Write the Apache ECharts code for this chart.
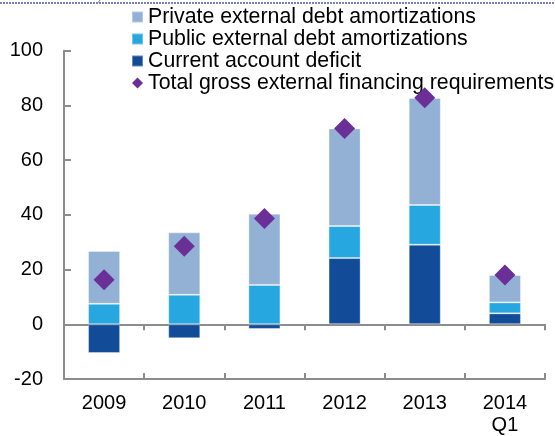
<!DOCTYPE html>
<html>
<head>
<meta charset="utf-8">
<script src="https://cdn.jsdelivr.net/npm/echarts@6/dist/echarts.min.js"></script>
<style>
  html, body { margin: 0; padding: 0; background: #fff; }
  #chart { width: 555px; height: 436px; }
</style>
</head>
<body>
<div id="chart"></div>
<script>
// Gross external financing requirements, USD bn
const categories = ['2009', '2010', '2011', '2012', '2013', '2014\nQ1'];
const currentAccountDeficit = [-10.5, -5.1, -1.7, 24.2, 29.1, 4.0];
const publicAmortizations = [7.5, 10.8, 14.4, 11.7, 14.5, 4.0];
const privateAmortizations = [19.3, 22.8, 26.0, 35.7, 39.1, 10.0];
const totalRequirements = [16.3, 28.5, 38.7, 71.6, 82.8, 18.0];

const FONT = '"Liberation Sans", Arial, sans-serif';
const AXIS_GRAY = '#8c8c8c';

const chart = echarts.init(document.getElementById('chart'), null, { renderer: 'canvas' });

const zeroAxis = (inside) => ({
  type: 'category',
  data: categories,
  position: 'bottom',
  boundaryGap: true,
  axisLine: { show: true, onZero: true, lineStyle: { color: AXIS_GRAY, width: 2 } },
  axisTick: { show: true, inside: inside, length: 6, lineStyle: { color: AXIS_GRAY, width: 2 } },
  axisLabel: { show: false },
  splitLine: { show: false }
});

const barBorder = { borderColor: 'rgba(255,255,255,0.35)', borderWidth: 1 };

chart.setOption({
  animation: false,
  backgroundColor: '#fff',
  textStyle: { fontFamily: FONT },
  grid: { left: 64, right: 10, top: 50.7, bottom: 56, containLabel: false },
  legend: {
    orient: 'vertical',
    left: 131,
    top: 6.5,
    padding: 0,
    itemWidth: 11,
    itemHeight: 11,
    itemGap: 1,
    textStyle: { fontFamily: FONT, fontSize: 21.3, color: '#000', lineHeight: 21 },
    data: [
      { name: 'Private external debt amortizations', icon: 'rect' },
      { name: 'Public external debt amortizations', icon: 'rect' },
      { name: 'Current account deficit', icon: 'rect' },
      { name: 'Total gross external financing requirements', icon: 'diamond' }
    ]
  },
  xAxis: [
    {
      type: 'category',
      data: categories,
      position: 'bottom',
      axisLine: { show: false, onZero: false },
      axisTick: { show: false },
      axisLabel: { fontFamily: FONT, fontSize: 20, color: '#000', margin: 13, lineHeight: 22 },
      splitLine: { show: false }
    },
    zeroAxis(false),
    zeroAxis(true)
  ],
  yAxis: {
    type: 'value',
    min: -20,
    max: 100,
    interval: 20,
    axisLine: { show: true, onZero: false, lineStyle: { color: AXIS_GRAY, width: 2 } },
    axisTick: { show: true, inside: true, length: 7, lineStyle: { color: AXIS_GRAY, width: 2 } },
    axisLabel: { fontFamily: FONT, fontSize: 20, color: '#000', margin: 21 },
    splitLine: { show: false }
  },
  series: [
    {
      name: 'Current account deficit',
      type: 'bar',
      stack: 'gfr',
      barWidth: '40%',
      data: currentAccountDeficit,
      itemStyle: Object.assign({ color: '#124c98' }, barBorder)
    },
    {
      name: 'Public external debt amortizations',
      type: 'bar',
      stack: 'gfr',
      barWidth: '40%',
      data: publicAmortizations,
      itemStyle: Object.assign({ color: '#27a7df' }, barBorder)
    },
    {
      name: 'Private external debt amortizations',
      type: 'bar',
      stack: 'gfr',
      barWidth: '40%',
      data: privateAmortizations,
      itemStyle: Object.assign({ color: '#93b0d5' }, barBorder)
    },
    {
      name: 'Total gross external financing requirements',
      type: 'scatter',
      symbol: 'diamond',
      symbolSize: 21,
      z: 5,
      data: totalRequirements,
      itemStyle: { color: '#6b2f98', opacity: 1 }
    }
  ],
  graphic: [
    {
      type: 'line',
      shape: { x1: 0, y1: 3, x2: 555, y2: 3 },
      style: { stroke: '#7b80c2', lineWidth: 2, lineDash: [2, 1] },
      silent: true
    },
    {
      type: 'line',
      shape: { x1: 97, y1: 4, x2: 100, y2: 0 },
      style: { stroke: '#8a8a8a', lineWidth: 1 },
      silent: true
    }
  ]
});
</script>
</body>
</html>
